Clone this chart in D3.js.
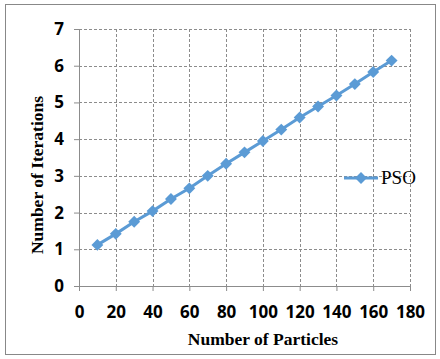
<!DOCTYPE html>
<html>
<head>
<meta charset="utf-8">
<script src="https://cdn.jsdelivr.net/npm/d3@7"></script>
<style>
  body { margin: 0; background: #fff; }
  .tick text { font-family: "Open Sans", "Liberation Sans", sans-serif; font-weight: bold; font-size: 17px; fill: #000; }
</style>
</head>
<body>
<svg class="chart"></svg>
<script>
// Chart data.
var particles = [10, 20, 30, 40, 50, 60, 70, 80, 90, 100, 110, 120, 130, 140, 150, 160, 170];
var iterations = [1.12, 1.42, 1.75, 2.04, 2.37, 2.66, 3.0, 3.33, 3.64, 3.95, 4.26, 4.59, 4.89, 5.19, 5.5, 5.83, 6.14];
var xTicks = [0, 20, 40, 60, 80, 100, 120, 140, 160, 180];
var yTicks = [0, 1, 2, 3, 4, 5, 6, 7];
var seriesName = "PSO";

var W = 440, H = 359;
var margin = { top: 29, right: 30, bottom: 73, left: 79 },
    width = 410 - margin.left,
    height = 286 - margin.top;

var blue = "#5b9bd5";

var svg = d3.select(".chart")
    .attr("width", W)
    .attr("height", H);

// Outer frame.
svg.append("rect")
    .attr("x", 5.5).attr("y", 4.5)
    .attr("width", 430).attr("height", 350)
    .attr("fill", "#fff")
    .attr("stroke", "#888")
    .attr("stroke-width", 1);

var g = svg.append("g")
    .attr("transform", "translate(" + margin.left + "," + margin.top + ")");

var x = d3.scaleLinear().domain([0, 180]).range([0, width]);
var y = d3.scaleLinear().domain([0, 7]).range([height, 0]);

// Dashed gridlines.
g.append("g").selectAll("line.h")
    .data(yTicks.slice(1))
    .enter().append("line")
    .attr("x1", 0).attr("x2", width)
    .attr("y1", function (d) { return Math.round(y(d)) + 0.5; })
    .attr("y2", function (d) { return Math.round(y(d)) + 0.5; })
    .attr("stroke", "#8c8c8c")
    .attr("stroke-dasharray", "3,2");

g.append("g").selectAll("line.v")
    .data(xTicks.slice(1))
    .enter().append("line")
    .attr("y1", 0).attr("y2", height)
    .attr("x1", function (d) { return Math.round(x(d)) + 0.5; })
    .attr("x2", function (d) { return Math.round(x(d)) + 0.5; })
    .attr("stroke", "#8c8c8c")
    .attr("stroke-dasharray", "3,2");

// Axes.
var xAxis = g.append("g")
    .attr("transform", "translate(0," + height + ")")
    .call(d3.axisBottom(x).tickValues(xTicks).tickFormat(d3.format("d"))
        .tickSize(5).tickSizeOuter(0).tickPadding(15));
var yAxis = g.append("g")
    .call(d3.axisLeft(y).tickValues(yTicks).tickFormat(d3.format("d"))
        .tickSize(5).tickSizeOuter(0).tickPadding(10));
[xAxis, yAxis].forEach(function (a) {
    a.select(".domain").attr("stroke", "#8c8c8c");
    a.selectAll(".tick line").attr("stroke", "#8c8c8c");
});

// Line and diamond markers.
var line = d3.line()
    .x(function (d, i) { return x(particles[i]); })
    .y(function (d) { return y(d); });

g.append("path")
    .datum(iterations)
    .attr("fill", "none")
    .attr("stroke", blue)
    .attr("stroke-width", 3)
    .attr("d", line);

var diamond = d3.symbol().type(d3.symbolDiamond2).size(90);
g.selectAll(".pt")
    .data(iterations)
    .enter().append("path")
    .attr("class", "pt")
    .attr("transform", function (d, i) { return "translate(" + x(particles[i]) + "," + y(d) + ")"; })
    .attr("d", diamond)
    .attr("fill", blue);

// Legend.
var lg = svg.append("g").attr("transform", "translate(344,178)");
lg.append("line")
    .attr("x1", 0).attr("x2", 34)
    .attr("stroke", blue).attr("stroke-width", 3);
lg.append("path")
    .attr("transform", "translate(17,0)")
    .attr("d", diamond)
    .attr("fill", blue);
lg.append("text")
    .attr("x", 37).attr("y", 6)
    .attr("font-family", "Liberation Serif, serif")
    .attr("font-size", 19)
    .text(seriesName);

// Axis titles.
svg.append("text")
    .attr("x", 263).attr("y", 345)
    .attr("text-anchor", "middle")
    .attr("font-family", "Liberation Serif, serif")
    .attr("font-weight", "bold")
    .attr("font-size", 17.5)
    .text("Number of Particles");

svg.append("text")
    .attr("transform", "translate(43,175) rotate(-90)")
    .attr("text-anchor", "middle")
    .attr("font-family", "Liberation Serif, serif")
    .attr("font-weight", "bold")
    .attr("font-size", 17.5)
    .text("Number of Iterations");
</script>
</body>
</html>
